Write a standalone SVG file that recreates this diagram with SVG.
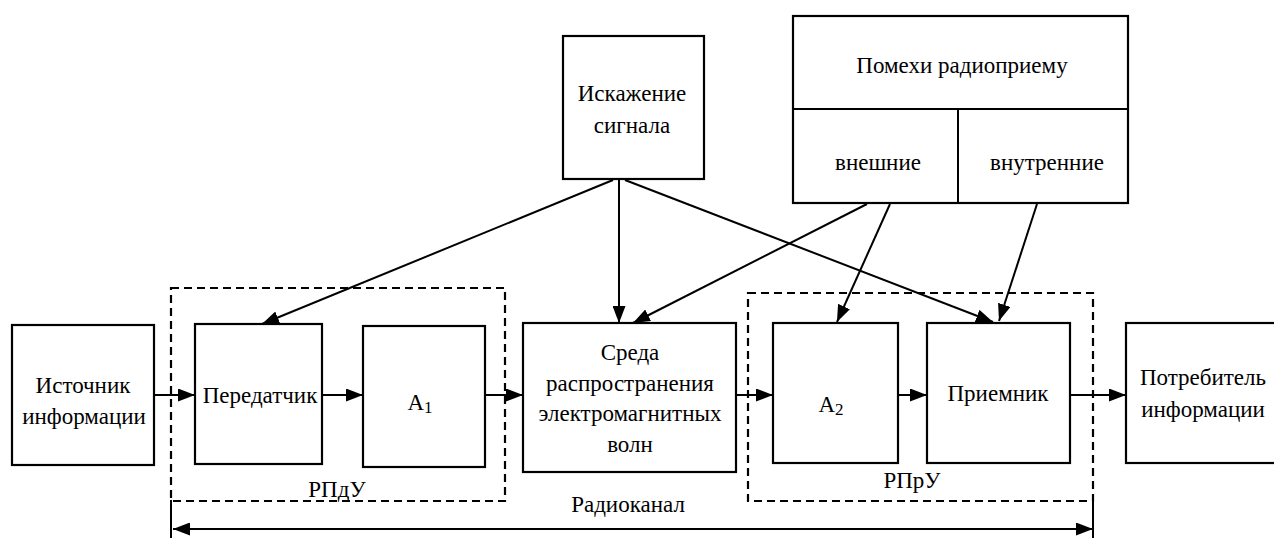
<svg xmlns="http://www.w3.org/2000/svg" width="1274" height="538" viewBox="0 0 1274 538">
<style>
.box{fill:#fff;stroke:#000;stroke-width:2.2}
.dash{fill:none;stroke:#000;stroke-width:2.2;stroke-dasharray:8 5}
.t{font-family:'Liberation Serif','DejaVu Serif','Times New Roman',serif;font-size:23px;fill:#000;text-anchor:middle}
.c{stroke:#000;stroke-width:2;fill:none}
.a{marker-end:url(#ah)}
</style>
<defs>
<marker id="ah" viewBox="0 0 17 13" refX="17" refY="6.5" markerWidth="17" markerHeight="13" markerUnits="userSpaceOnUse" orient="auto-start-reverse">
<path d="M0,0 L17,6.5 L0,13 z" fill="#000"/>
</marker>
</defs>
<rect width="1274" height="538" fill="#fff"/>

<g id="rpdu">
<rect class="dash" x="171" y="288" width="334" height="213"/>
<text class="t" x="337" y="497">РПдУ</text>
</g>
<g id="rpru">
<rect class="dash" x="748" y="293" width="345" height="208"/>
<text class="t" x="912" y="488">РПрУ</text>
</g>

<g id="istochnik">
<rect class="box" x="12" y="325" width="142" height="140"/>
<text class="t" x="83" y="393">Источник</text>
<text class="t" x="84" y="424">информации</text>
</g>
<g id="peredatchik">
<rect class="box" x="195" y="324" width="127" height="140"/>
<text class="t" x="260" y="403">Передатчик</text>
</g>
<g id="a1">
<rect class="box" x="363" y="326" width="122" height="141"/>
<text class="t" x="420" y="410">A<tspan font-size="17" dy="3">1</tspan></text>
</g>
<g id="sreda">
<rect class="box" x="523" y="323" width="213" height="149"/>
<text class="t" x="630" y="360">Среда</text>
<text class="t" x="630" y="391">распространения</text>
<text class="t" x="630" y="421">электромагнитных</text>
<text class="t" x="630" y="452">волн</text>
</g>
<g id="a2">
<rect class="box" x="773" y="323" width="125" height="140"/>
<text class="t" x="831" y="412">A<tspan font-size="17" dy="3">2</tspan></text>
</g>
<g id="priemnik">
<rect class="box" x="927" y="323" width="143" height="140"/>
<text class="t" x="998" y="401">Приемник</text>
</g>
<g id="potrebitel">
<rect class="box" x="1126" y="323" width="170" height="140"/>
<text class="t" x="1203" y="385">Потребитель</text>
<text class="t" x="1203" y="417">информации</text>
</g>
<g id="iskazhenie">
<rect class="box" x="563" y="36" width="141" height="143"/>
<text class="t" x="632" y="101">Искажение</text>
<text class="t" x="632" y="133">сигнала</text>
</g>
<g id="pomehi">
<rect class="box" x="793" y="16" width="335" height="187"/>
<line class="c" x1="793" y1="109" x2="1128" y2="109" stroke-width="2.2"/>
<line class="c" x1="958" y1="109" x2="958" y2="203" stroke-width="2.2"/>
<text class="t" x="962" y="73">Помехи радиоприему</text>
<text class="t" x="878" y="170">внешние</text>
<text class="t" x="1047" y="170">внутренние</text>
</g>

<g id="connectors">
<line class="c a" x1="154" y1="395" x2="195" y2="395"/>
<line class="c a" x1="322" y1="395" x2="363" y2="395"/>
<line class="c a" x1="485" y1="395" x2="523" y2="395"/>
<line class="c a" x1="736" y1="395" x2="773" y2="395"/>
<line class="c a" x1="898" y1="395" x2="927" y2="395"/>
<line class="c a" x1="1070" y1="395" x2="1126" y2="395"/>
<line class="c a" x1="613" y1="180" x2="262" y2="324"/>
<line class="c a" x1="619" y1="180" x2="619" y2="323"/>
<line class="c a" x1="625" y1="180" x2="993" y2="322"/>
<line class="c a" x1="867" y1="204" x2="633" y2="323"/>
<line class="c a" x1="890" y1="204" x2="837" y2="322"/>
<line class="c a" x1="1037" y1="204" x2="999" y2="321"/>
<line class="c" x1="171" y1="500" x2="171" y2="538"/>
<line class="c" x1="1093" y1="500" x2="1093" y2="538"/>
<line class="c" x1="173" y1="529" x2="1093" y2="529" marker-start="url(#ah)" marker-end="url(#ah)"/>
</g>
<g id="radiokanal">
<text class="t" x="628" y="512">Радиоканал</text>
</g>
</svg>
